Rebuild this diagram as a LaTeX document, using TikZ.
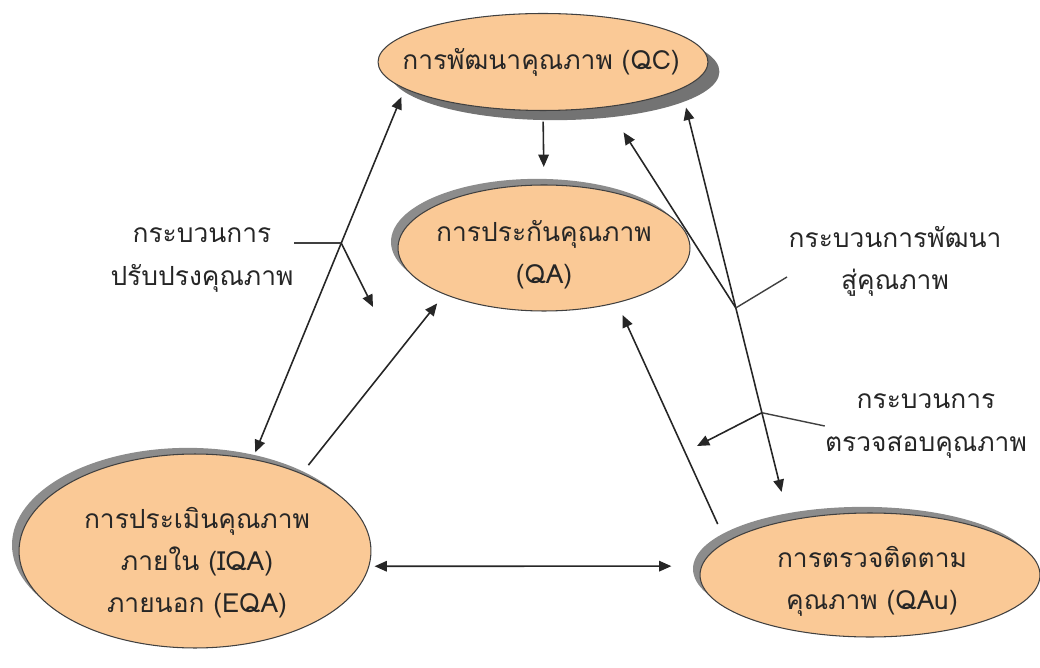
\documentclass[tikz,border=0pt]{standalone}
\usepackage{fontspec}
\newfontfamily\thaifont[Script=Thai]{Loma}
\usetikzlibrary{arrows.meta,shapes.geometric,shadows,calc}
\definecolor{qorange}{RGB}{250,201,150}

\begin{document}
\begin{tikzpicture}
	[x=0.02cm,y=-0.02cm,>={Triangle[length=7pt,width=6pt]},
	 every node/.style={text=black!85,font=\thaifont\fontsize{15pt}{24pt}\selectfont},
	 blob/.style={ellipse,draw=black!75,line width=0.6pt,fill=qorange},
	 shadowdown/.style={drop shadow={shadow xshift=6.5pt,shadow yshift=-5.5pt,fill=black!55,opacity=1}},
	 shadowup/.style={drop shadow={shadow xshift=-4pt,shadow yshift=3.5pt,fill=black!45,opacity=1}},
	 txt/.style={align=center,inner sep=0pt},
	 arr/.style={->,draw=black!85,line width=0.9pt},
	 dbl/.style={<->,draw=black!85,line width=0.9pt},
	 tick/.style={draw=black!75,line width=0.8pt}]
	\useasboundingbox (0,0) rectangle (1040,668);

	% ellipses
	\node[blob,shadowdown,minimum width=6.6cm,minimum height=1.94cm] (qc) at (543,62) {};
	\node[blob,shadowup,minimum width=5.84cm,minimum height=2.52cm] (qa) at (544,248) {};
	\node[blob,shadowup,minimum width=7.04cm,minimum height=3.88cm] (iqa) at (195,551) {};
	\node[blob,shadowup,minimum width=6.8cm,minimum height=2.48cm] (qau) at (870,575) {};

	\node[txt] (qc-t) at (541,62) {การพัฒนาคุณภาพ (QC)};
	\node[txt] (qa-t) at (544,255) {การประกันคุณภาพ\\(QA)};
	\node[txt] (iqa-t) at (197,563) {การประเมินคุณภาพ\\ภายใน (IQA)\\ภายนอก (EQA)};
	\node[txt] (qau-t) at (872,581) {การตรวจติดตาม\\คุณภาพ (QAu)};

	% process labels
	\node[txt] (imp) at (202,260) {กระบวนการ\\ปรับปรงคุณภาพ};
	\node[txt] (dev) at (895,261) {กระบวนการพัฒนา\\สู่คุณภาพ};
	\node[txt] (chk) at (926,426) {กระบวนการ\\ตรวจสอบคุณภาพ};

	\coordinate (j1) at ($(iqa.58)!0.583!(qc.191)$);
	\coordinate (j2) at ($(qc.349)!0.508!(qau.146)$);
	\coordinate (j3) at ($(qc.349)!0.751!(qau.146)$);
	\coordinate (impend) at (373,307);
	\coordinate (devend) at (787,277);
	\coordinate (chkend) at (697,446);

	% connectors
	\draw[arr,shorten <=6pt,shorten >=10pt] (qc.south) -- (qa.north);
	\draw[dbl,shorten <=4pt,shorten >=5pt] (iqa.58) -- (qc.191);
	\draw[arr,shorten <=6pt,shorten >=6.5pt] (iqa.36) -- (qa.205);
	\draw[dbl,shorten <=3pt,shorten >=17pt] (iqa.-5) -- (qau.177);
	\draw[arr,shorten <=11pt,shorten >=7.5pt] (qau.167) -- (qa.323);
	\draw[dbl,shorten <=11pt,shorten >=16.5pt] (qc.349) -- (qau.146);
	\draw[arr,shorten >=17pt] (j2) -- (qc.325);

	\draw[tick] (j1) -- (j1 -| imp.east);
	\draw[arr] (j1) -- (impend);
	\draw[tick] (j2) -- (devend);
	\draw[tick] (j3) -- (chk.west);
	\draw[arr] (j3) -- (chkend);
\end{tikzpicture}
\end{document}
